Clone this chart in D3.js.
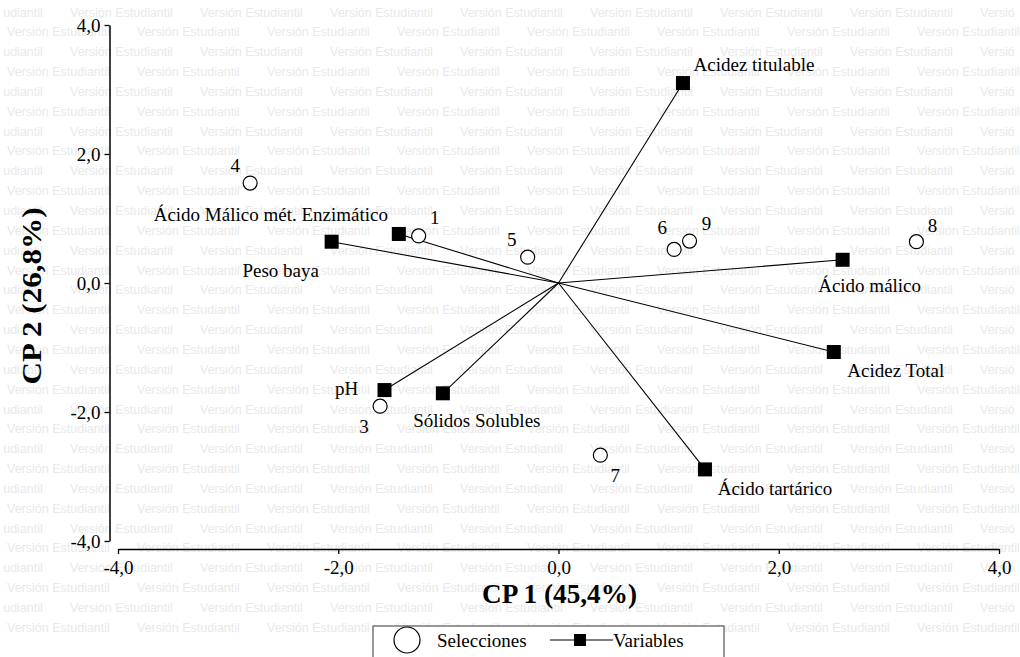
<!DOCTYPE html>
<html>
<head>
<meta charset="utf-8">
<script src="https://cdn.jsdelivr.net/npm/d3@7"></script>
<style>
  html, body { margin: 0; padding: 0; background: #fff; }
  svg { display: block; }
</style>
</head>
<body>
<svg id="chart" width="1020" height="657"></svg>
<script>
// ---------- data ----------
const selNames = ["1", "3", "4", "5", "6", "7", "8", "9"];
const selCP1   = [-1.27, -1.62, -2.80, -0.28, 1.05, 0.38, 3.25, 1.19];
const selCP2   = [ 0.73, -1.91,  1.55,  0.40, 0.52, -2.67, 0.64, 0.65];

const varNames = ["Acidez titulable", "Ácido málico", "Acidez Total", "Ácido tartárico",
                  "Sólidos Solubles", "pH", "Ácido Málico mét. Enzimático", "Peso baya"];
const varCP1   = [1.13, 2.58, 2.50, 1.33, -1.05, -1.58, -1.45, -2.06];
const varCP2   = [3.10, 0.36, -1.07, -2.89, -1.71, -1.66, 0.76, 0.64];

const tickValues = [-4, -2, 0, 2, 4];
const xTitle = "CP 1 (45,4%)";
const yTitle = "CP 2 (26,8%)";
const legendLabels = ["Selecciones", "Variables"];
const watermark = "Versión Estudiantil";

// ---------- layout (label placement offsets, px) ----------
const selLabelOff = [[16,-12],[-16,27],[-15,-11],[-16,-11],[-12,-15],[15,27],[16,-10],[17,-11]];
const varLabelOff = [[71,-12],[27,32],[62,25],[70,26],[34,34],[-38,5],[-128,-13],[-51,35]];

const W = 1020, H = 657;
const serif = "'Liberation Serif', 'Times New Roman', serif";
const svg = d3.select("#chart");

// ---------- watermark (trimmed to whole visible characters at the edges) ----------
const wm = svg.append("g").attr("font-family", "'Liberation Sans', Arial, sans-serif")
  .attr("font-size", 12.5).attr("fill", "#e9e9e9");
for (let k = 0; k < 34; k++) {
  const yb = 12 + 19.85 * k + 4.5;
  if (yb > H - 8) break;
  const x0 = (k % 2 === 0) ? -60 : -123;
  for (let xp = x0; xp < W; xp += 130) {
    const t = wm.append("text").attr("x", xp).attr("y", yb).text(watermark);
    const node = t.node();
    const n = watermark.length;
    let first = 0, last = n - 1;
    while (first < n && node.getStartPositionOfChar(first).x < 0) first++;
    while (last >= first && node.getEndPositionOfChar(last).x > W) last--;
    if (last < first) { t.remove(); continue; }
    let s = watermark.substring(first, last + 1);
    const lead = s.length - s.trimStart().length;
    s = s.trim();
    if (!s) { t.remove(); continue; }
    const sx = node.getStartPositionOfChar(first + lead).x;
    t.attr("x", sx).text(s);
  }
}

// ---------- scales ----------
const x = d3.scaleLinear().domain([-4, 4]).range([118, 999]);
const y = d3.scaleLinear().domain([-4, 4]).range([541, 25]);
const fmt = d => d.toFixed(1).replace(".", ",");

// ---------- axes ----------
const gx = svg.append("g").attr("transform", "translate(0,549)")
  .call(d3.axisBottom(x).tickValues(tickValues).tickFormat(fmt).tickSizeInner(5).tickSizeOuter(0).tickPadding(7));
const gy = svg.append("g").attr("transform", "translate(109.5,0)")
  .call(d3.axisLeft(y).tickValues(tickValues).tickFormat(fmt).tickSizeInner(5).tickSizeOuter(0).tickPadding(4));
[gx, gy].forEach(g => {
  g.select(".domain").attr("stroke", "#000").attr("stroke-width", 1.5);
  g.selectAll(".tick line").attr("stroke", "#000").attr("stroke-width", 1.3);
  g.selectAll(".tick text").attr("font-family", serif).attr("font-size", 19).attr("fill", "#000");
});

// axis titles
svg.append("text").attr("x", 559.5).attr("y", 603).attr("text-anchor", "middle")
  .attr("font-family", serif).attr("font-weight", "bold").attr("font-size", 27)
  .attr("textLength", 155).attr("lengthAdjust", "spacingAndGlyphs").text(xTitle);
svg.append("text").attr("transform", "translate(41,296) rotate(-90)").attr("text-anchor", "middle")
  .attr("font-family", serif).attr("font-weight", "bold").attr("font-size", 27)
  .attr("textLength", 177).attr("lengthAdjust", "spacingAndGlyphs").text(yTitle);

// ---------- biplot ----------
const vars = varNames.map((n, i) => ({ n, cx: varCP1[i], cy: varCP2[i], off: varLabelOff[i] }));
const sels = selNames.map((n, i) => ({ n, cx: selCP1[i], cy: selCP2[i], off: selLabelOff[i] }));

svg.append("g").selectAll("line").data(vars).join("line")
  .attr("x1", x(0)).attr("y1", y(0))
  .attr("x2", d => x(d.cx)).attr("y2", d => y(d.cy))
  .attr("stroke", "#000").attr("stroke-width", 1.1);

svg.append("g").selectAll("circle").data(sels).join("circle")
  .attr("cx", d => x(d.cx)).attr("cy", d => y(d.cy)).attr("r", 7)
  .attr("fill", "#fff").attr("stroke", "#000").attr("stroke-width", 1.2);

svg.append("g").selectAll("rect").data(vars).join("rect")
  .attr("x", d => x(d.cx) - 7).attr("y", d => y(d.cy) - 7)
  .attr("width", 14).attr("height", 14).attr("fill", "#000");

svg.append("g").attr("font-family", serif).attr("font-size", 19).attr("text-anchor", "middle")
  .selectAll("text").data(sels).join("text")
  .attr("x", d => x(d.cx) + d.off[0]).attr("y", d => y(d.cy) + d.off[1]).text(d => d.n);

svg.append("g").attr("font-family", serif).attr("font-size", 19).attr("text-anchor", "middle")
  .selectAll("text").data(vars).join("text")
  .attr("x", d => x(d.cx) + d.off[0]).attr("y", d => y(d.cy) + d.off[1]).text(d => d.n);

// ---------- legend ----------
const lg = svg.append("g");
lg.append("rect").attr("x", 373).attr("y", 626).attr("width", 351).attr("height", 50)
  .attr("fill", "#fff").attr("stroke", "#555").attr("stroke-width", 1.2);
lg.append("circle").attr("cx", 407).attr("cy", 640).attr("r", 13)
  .attr("fill", "#fff").attr("stroke", "#000").attr("stroke-width", 1.2);
lg.append("text").attr("x", 437).attr("y", 647).attr("font-family", serif).attr("font-size", 19).text(legendLabels[0]);
lg.append("line").attr("x1", 550).attr("x2", 613).attr("y1", 640).attr("y2", 640).attr("stroke", "#000").attr("stroke-width", 1.1);
lg.append("rect").attr("x", 574).attr("y", 634).attr("width", 12).attr("height", 12).attr("fill", "#000");
lg.append("text").attr("x", 613).attr("y", 647).attr("font-family", serif).attr("font-size", 19).text(legendLabels[1]);
</script>
</body>
</html>
